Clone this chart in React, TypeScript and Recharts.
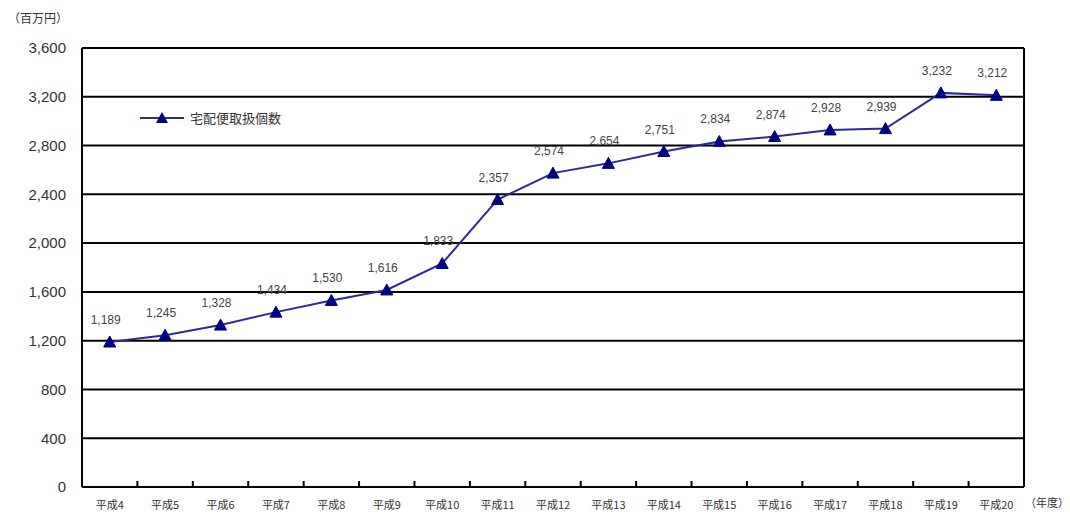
import React from 'react';
import {
  LineChart,
  Line,
  XAxis,
  YAxis,
  CartesianGrid,
  LabelList,
} from 'recharts';

const years = [
  '平成4', '平成5', '平成6', '平成7', '平成8', '平成9', '平成10', '平成11', '平成12',
  '平成13', '平成14', '平成15', '平成16', '平成17', '平成18', '平成19', '平成20',
];
const parcels = [
  1189, 1245, 1328, 1434, 1530, 1616, 1833, 2357, 2574,
  2654, 2751, 2834, 2874, 2928, 2939, 3232, 3212,
];
const yTicks = [0, 400, 800, 1200, 1600, 2000, 2400, 2800, 3200, 3600];

const seriesName = '宅配便取扱個数';
const lineColor = '#2a2a9e';
const markerColor = '#000080';
const numFont = '"Liberation Sans", Arial, sans-serif';

// points sit in the middle of each year slot, tick marks at the slot edges
const data = years.map((year, i) => ({ x: i + 0.5, year, value: parcels[i] }));
const labelTicks = years.map((_, i) => i + 0.5);
const edgeTicks = years.slice(1).map((_, i) => i + 1);

const Triangle = (props: any) => {
  const { cx, cy } = props;
  if (cx == null || cy == null) return null;
  return (
    <path
      d={`M${cx},${cy - 6} L${cx + 6},${cy + 5} L${cx - 6},${cy + 5} Z`}
      fill={markerColor}
      stroke={markerColor}
    />
  );
};

const XTick = (props: any) => {
  const { x, y, payload } = props;
  const v = payload.value;
  if (Number.isInteger(v)) {
    return <line x1={x} x2={x} y1={y - 6} y2={y} stroke="#000" strokeWidth={2} />;
  }
  const idx = Math.floor(v);
  return (
    <text x={x} y={y + 22} textAnchor="middle" fontSize={11} fill="#333">
      {years[idx]}
    </text>
  );
};

const ValueLabel = (props: any) => {
  const { x, y, value } = props;
  return (
    <text
      x={x - 4}
      y={y - 18}
      textAnchor="middle"
      fontSize={12}
      fill="#444"
      fontFamily={numFont}
    >
      {Number(value).toLocaleString('en-US')}
    </text>
  );
};

const App: React.FC = () => {
  return (
    <div
      style={{
        position: 'absolute',
        left: 0,
        top: 0,
        width: 1070,
        height: 515,
        background: '#fff',
        fontFamily: '"Noto Sans CJK JP", "Noto Sans", sans-serif',
      }}
    >
      <div style={{ position: 'absolute', left: 8, top: 9, fontSize: 12, color: '#333' }}>
        （百万円）
      </div>
      <div style={{ position: 'absolute', left: 1025, top: 494, fontSize: 11, color: '#333' }}>
        （年度）
      </div>
      <LineChart
        width={1070}
        height={515}
        data={data}
        margin={{ top: 48, right: 45, bottom: 0, left: 12 }}
      >
        <CartesianGrid vertical={false} stroke="#000" strokeWidth={2} />
        <XAxis
          dataKey="x"
          type="number"
          domain={[0, 17]}
          ticks={[...edgeTicks, ...labelTicks].sort((a, b) => a - b)}
          interval={0}
          tick={<XTick />}
          tickLine={false}
          tickSize={0}
          tickMargin={0}
          height={28}
          axisLine={{ stroke: '#000', strokeWidth: 2 }}
        />
        <YAxis
          domain={[0, 3600]}
          ticks={yTicks}
          interval={0}
          width={70}
          tickLine={false}
          tickMargin={10}
          tickFormatter={(v: number) => v.toLocaleString('en-US')}
          tick={{ fontSize: 15, fill: '#333', fontFamily: numFont }}
          axisLine={{ stroke: '#000', strokeWidth: 2 }}
        />
        <YAxis
          yAxisId="right"
          orientation="right"
          domain={[0, 3600]}
          ticks={yTicks}
          width={1}
          tick={false}
          tickLine={false}
          axisLine={{ stroke: '#000', strokeWidth: 2 }}
        />
        <Line
          type="linear"
          dataKey="value"
          name={seriesName}
          stroke={lineColor}
          strokeWidth={2}
          dot={<Triangle />}
          activeDot={false}
          isAnimationActive={false}
        >
          <LabelList dataKey="value" content={<ValueLabel />} />
        </Line>
      </LineChart>
      <div
        style={{
          position: 'absolute',
          left: 140,
          top: 108,
          display: 'flex',
          alignItems: 'center',
          fontSize: 13,
          color: '#333',
        }}
      >
        <svg width={46} height={14}>
          <line x1={0} x2={44} y1={7} y2={7} stroke={lineColor} strokeWidth={2} />
          <path d="M22,1 L28,12 L16,12 Z" fill={markerColor} />
        </svg>
        <span style={{ marginLeft: 4 }}>{seriesName}</span>
      </div>
    </div>
  );
};

export default App;
